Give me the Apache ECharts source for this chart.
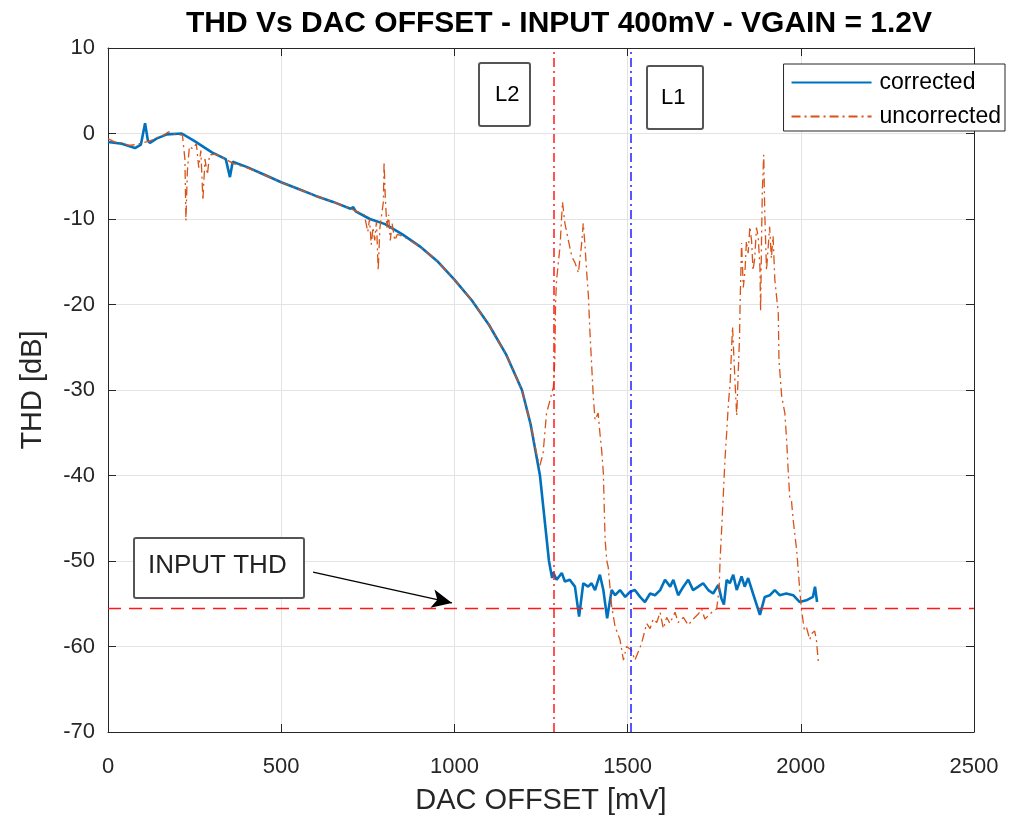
<!DOCTYPE html>
<html>
<head>
<meta charset="utf-8">
<script src="https://cdn.jsdelivr.net/npm/echarts@6/dist/echarts.min.js"></script>
<style>html,body{margin:0;padding:0;background:#fff;}#c{width:1010px;height:821px;}</style>
</head>
<body>
<div id="c"></div>
<script>
// ---- data ----
const titleText = 'THD Vs DAC OFFSET - INPUT 400mV - VGAIN = 1.2V';
const xTicks = [0, 500, 1000, 1500, 2000, 2500];
const yTicks = [-70, -60, -50, -40, -30, -20, -10, 0, 10];

const corrMv = [0, 40, 78, 95, 107, 115, 121, 140, 170, 213, 250, 300, 340, 352, 360, 400, 450, 500, 550, 600, 650, 700, 708, 715, 756, 800, 850, 900, 950, 1000, 1050, 1100, 1150, 1195, 1220, 1247, 1260, 1273, 1282,
  1285, 1295, 1310, 1319, 1333, 1348, 1360, 1372, 1386, 1396, 1406, 1420, 1430, 1441, 1454, 1464, 1478, 1493, 1507, 1521, 1536, 1550, 1565, 1579, 1594, 1608, 1623, 1632, 1646, 1661, 1675, 1689, 1704, 1718, 1733, 1747, 1762, 1771, 1778, 1786, 1795, 1805, 1815, 1829, 1838, 1848, 1862, 1882, 1896, 1911, 1925, 1939, 1958, 1978, 1997, 2016, 2035, 2041, 2047];
const corrDb = [-1.0, -1.2, -1.7, -1.3, 1.2, -0.8, -1.1, -0.6, -0.1, 0.0, -0.9, -2.2, -3.0, -5.1, -3.3, -3.9, -4.8, -5.7, -6.5, -7.3, -8.0, -8.8, -8.6, -9.1, -10.0, -10.6, -11.8, -13.2, -14.9, -17.1, -19.5, -22.4, -25.9, -30.0, -34.0, -40.0, -45.0, -50.0, -52.0,
  -51.3, -52.2, -51.4, -52.4, -52.2, -53.0, -56.5, -52.6, -53.0, -52.6, -53.4, -51.6, -53.4, -56.7, -53.4, -54.0, -53.4, -54.2, -53.6, -53.4, -54.2, -54.8, -53.8, -54.0, -53.4, -52.2, -53.0, -52.2, -54.0, -53.0, -52.2, -53.4, -53.0, -52.6, -53.4, -53.8, -52.8, -54.4, -55.1, -52.2, -52.6, -51.6, -53.4, -51.8, -53.0, -52.0, -53.8, -56.3, -54.2, -54.0, -53.4, -54.0, -53.8, -54.0, -54.8, -54.6, -54.2, -53.0, -54.8];

const uncMv = [0, 20, 40, 60, 80, 100, 120, 140, 160, 175, 195, 215, 222, 225, 229, 235, 245, 255, 262, 268, 274, 280, 287, 293, 310, 340, 360, 400, 450, 500, 550, 600, 650, 700, 740, 750, 755, 760, 765, 770, 775, 780, 785, 790, 795, 797, 800, 805, 810, 815, 820, 828, 835, 850, 900, 950, 1000, 1050, 1100, 1150, 1195, 1220, 1240, 1247,
  1256, 1266, 1276, 1286, 1290, 1292, 1295, 1305, 1312, 1319, 1329, 1339, 1348, 1358, 1367, 1372, 1377, 1382, 1387, 1391, 1396, 1401, 1406, 1415, 1420, 1425, 1430, 1435, 1440, 1444, 1454, 1464, 1478, 1488, 1497, 1511, 1521, 1540, 1555, 1565, 1574, 1584, 1594, 1603, 1613, 1622, 1637, 1646, 1661, 1675, 1689, 1704, 1714, 1723, 1743, 1757, 1764, 1767, 1770,
  1776, 1781, 1786, 1791, 1796, 1800, 1803, 1810, 1815, 1820, 1823, 1825, 1829, 1834, 1839, 1843, 1848, 1853, 1858, 1862, 1867, 1872, 1877, 1882, 1884, 1887, 1889, 1893, 1896, 1901, 1906, 1910, 1915, 1920, 1925, 1935, 1937, 1945, 1954, 1959, 1963, 1968, 1973, 1978, 1988, 1997, 2002, 2010, 2016, 2026, 2031, 2040, 2045, 2051];
const uncDb = [-0.6, -1.0, -1.1, -1.4, -1.3, -1.1, -0.9, -0.5, -0.2, 0.2, -0.1, -0.2, -3.0, -10.2, -4.5, -1.5, -1.8, -1.2, -4.0, -2.0, -7.8, -3.0, -4.8, -2.5, -2.4, -3.0, -3.5, -4.0, -4.8, -5.7, -6.5, -7.3, -8.0, -8.8, -9.5, -11.5, -10.0, -13.0, -11.0, -12.5, -10.3, -16.0, -11.0, -9.5, -8.0, -3.3, -7.0, -11.0, -9.5, -12.5, -10.5, -12.5, -11.8, -12.0, -13.2, -14.9, -17.1, -19.5, -22.4, -25.9, -30.0, -34.0, -38.0, -38.8,
  -37.4, -32.7, -31.2, -29.6, -26.5, -19.8, -17.1, -13.2, -8.0, -10.5, -12.5, -14.4, -15.1, -16.3, -13.0, -10.5, -13.1, -16.3, -19.1, -23.0, -26.9, -30.8, -33.5, -32.7, -35.0, -37.0, -39.7, -47.5, -50.0, -50.7, -55.3, -57.7, -59.2, -61.6, -60.0, -60.4, -61.6, -59.7, -57.3, -57.9, -56.8, -57.2, -56.0, -57.9, -56.6, -57.3, -56.0, -57.2, -56.6, -57.5, -56.8, -56.2, -55.6, -56.8, -56.0, -55.6, -53.4, -49.9, -47.5,
  -42.5, -38.2, -35.0, -31.6, -29.2, -25.3, -22.6, -29.0, -33.0, -27.3, -24.0, -19.5, -12.8, -18.0, -16.0, -12.6, -14.0, -10.9, -12.6, -16.0, -14.6, -11.0, -12.1, -15.6, -20.8, -11.4, -6.6, -2.5, -9.3, -16.0, -13.2, -10.9, -14.6, -12.0, -17.1, -21.0, -26.5, -30.8, -32.7, -35.8, -39.0, -42.5, -42.9, -45.2, -48.7, -53.4, -55.7, -58.0, -57.7, -59.2, -58.5, -58.2, -59.2, -62.0];

const inputThdDb = -55.5;
const l2Mv = 1287;
const l1Mv = 1510;
const arrowFrom = [592, -51.3];
const arrowTo = [993, -54.9];

const zip = (a, b) => a.map((v, i) => [v, b[i]]);

const FONT = 'Liberation Sans';
const axisCol = '#262626';
const gridCol = '#e3e3e3';

const chart = echarts.init(document.getElementById('c'), null, {renderer: 'canvas'});

const baseX = {
  type: 'value', min: xTicks[0], max: xTicks[xTicks.length - 1], interval: 500,
  axisLine: {show: true, onZero: false, lineStyle: {color: axisCol, width: 1}},
  axisTick: {show: true, inside: true, length: 8, lineStyle: {color: axisCol}},
  splitLine: {show: false}
};
const baseY = {
  type: 'value', min: yTicks[0], max: yTicks[yTicks.length - 1], interval: 10,
  axisLine: {show: true, onZero: false, lineStyle: {color: axisCol, width: 1}},
  axisTick: {show: true, inside: true, length: 8, lineStyle: {color: axisCol}},
  splitLine: {show: false}
};

const option = {
  backgroundColor: '#ffffff',
  animation: false,
  title: {
    text: titleText, left: 554, textAlign: 'center', top: 4,
    textStyle: {fontFamily: FONT, fontWeight: 'bold', fontSize: 30, color: '#000'}
  },
  grid: {left: 108, top: 48, right: 36, bottom: 89, containLabel: false},
  legend: {
    right: 5, top: 64, orient: 'vertical', itemGap: 11, itemWidth: 80, itemHeight: 14,
    padding: [7, 4, 3, 7],
    borderColor: '#262626', borderWidth: 1, backgroundColor: '#ffffff',
    itemStyle: {color: 'rgba(0,0,0,0)', borderWidth: 0, opacity: 0},
    textStyle: {fontFamily: FONT, fontSize: 23, color: '#000', padding: [0, 0, 0, 3]},
    data: [{name: 'corrected'}, {name: 'uncorrected'}]
  },
  xAxis: [
    Object.assign({}, baseX, {
      position: 'bottom',
      name: 'DAC OFFSET [mV]', nameLocation: 'middle', nameGap: 54,
      nameTextStyle: {fontFamily: FONT, fontSize: 29, color: axisCol},
      axisLabel: {fontFamily: FONT, fontSize: 22, color: axisCol, margin: 24, formatter: v => String(v)},
      splitLine: {show: true, lineStyle: {color: gridCol, width: 1}}
    }),
    Object.assign({}, baseX, {position: 'top', axisLabel: {show: false}})
  ],
  yAxis: [
    Object.assign({}, baseY, {
      position: 'left',
      name: 'THD [dB]', nameLocation: 'middle', nameGap: 61,
      nameTextStyle: {fontFamily: FONT, fontSize: 29, color: axisCol},
      axisLabel: {fontFamily: FONT, fontSize: 22, color: axisCol, margin: 13, formatter: v => String(v)},
      splitLine: {show: true, lineStyle: {color: gridCol, width: 1}}
    }),
    Object.assign({}, baseY, {position: 'right', axisLabel: {show: false}})
  ],
  series: [
    {
      name: 'uncorrected', type: 'line', xAxisIndex: 0, yAxisIndex: 0,
      data: zip(uncMv, uncDb), showSymbol: false, symbol: 'none', z: 3,
      lineStyle: {color: '#D95319', width: 1.3, type: [9, 4, 2, 4]},
      itemStyle: {color: '#D95319'}
    },
    {
      name: 'corrected', type: 'line', xAxisIndex: 0, yAxisIndex: 0,
      data: zip(corrMv, corrDb), showSymbol: false, symbol: 'none', z: 2,
      lineStyle: {color: '#0072BD', width: 2.6},
      itemStyle: {color: '#0072BD'},
      markLine: {
        silent: true, symbol: 'none', label: {show: false}, animation: false,
        data: [
          {xAxis: l2Mv, lineStyle: {color: '#ff1a1a', width: 1.5, type: [9, 4, 2, 4]}},
          {xAxis: l1Mv, lineStyle: {color: '#2020ff', width: 1.5, type: [9, 4, 2, 4]}},
          {yAxis: inputThdDb, lineStyle: {color: '#ff1a1a', width: 1.3, type: [13, 8]}},
          [
            {coord: arrowFrom, symbol: 'none', lineStyle: {color: '#000', width: 1.3, type: 'solid'}},
            {coord: arrowTo, symbol: 'arrow', symbolSize: [14, 20]}
          ]
        ]
      }
    }
  ],
  graphic: [
    {type: 'rect', left: 478, top: 62, shape: {width: 51, height: 63, r: 2}, style: {fill: '#fff', stroke: '#555', lineWidth: 2}, z: 51},
    {type: 'text', left: 495, top: 84, style: {text: 'L2', fontFamily: FONT, fontSize: 22, fill: '#000'}, z: 52},
    {type: 'rect', left: 646, top: 65, shape: {width: 56, height: 63, r: 2}, style: {fill: '#fff', stroke: '#555', lineWidth: 2}, z: 51},
    {type: 'text', left: 661, top: 87, style: {text: 'L1', fontFamily: FONT, fontSize: 22, fill: '#000'}, z: 52},
    {type: 'rect', left: 133, top: 537, shape: {width: 170, height: 60, r: 2}, style: {fill: '#fff', stroke: '#555', lineWidth: 2}, z: 51},
    {type: 'text', left: 148, top: 553, style: {text: 'INPUT THD', fontFamily: FONT, fontSize: 26, fill: '#222'}, z: 52}
  ]
};
chart.setOption(option);
</script>
</body>
</html>
